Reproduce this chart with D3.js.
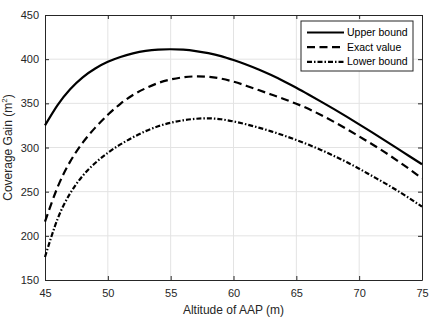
<html>
<head>
<script src="https://d3js.org/d3.v7.min.js"></script>
<style>
  body { margin: 0; background: white; font-family: "Liberation Sans", Arial, Helvetica, sans-serif; }
  .grid line { stroke: #e3e3e3; stroke-width: 1px; }
  .axis text { fill: #262626; font-size: 11px; }
  .axis path, .axis line { stroke: #262626; }
</style>
</head>
<body>
<svg id="chart" width="436" height="322"></svg>
<script>
const altitude = d3.range(45, 76);
const upperBound = [325, 348, 366, 379.5, 389.5, 397, 402.5, 406.5, 409.3, 410.8, 411.2, 410.7, 409.2, 406.8, 403.5, 399,
                    394, 388.3, 382, 375.1, 367.7, 359.8, 351.7, 343.4, 334.9, 326.2, 317.4, 308.4, 299.3, 290.1, 281];
const exactValue = [216, 255, 284, 305.5, 322.5, 337, 349.5, 359.5, 367, 373, 377, 379.5, 380.5, 380, 378, 374.5,
                    370, 365, 360, 355, 349.5, 343.5, 336.5, 329, 321, 312.5, 304, 295, 285.5, 275.5, 265];
const lowerBound = [176, 219, 248, 268, 282.5, 294, 303.5, 311.5, 318.5, 324, 328, 330.8, 332.5, 333, 332, 329.5,
                    326.3, 322.5, 318.3, 313.6, 308.5, 303, 297, 290.5, 283.5, 276, 268, 260, 251.5, 242.5, 233];
const xTicks = [45, 50, 55, 60, 65, 70, 75];
const yTicks = [150, 200, 250, 300, 350, 400, 450];
const seriesNames = ["Upper bound", "Exact value", "Lower bound"];

const svg = d3.select("#chart");
const margin = { top: 15, right: 14, bottom: 42, left: 45 };
const width = 436 - margin.left - margin.right;
const height = 322 - margin.top - margin.bottom;
const g = svg.append("g").attr("transform", "translate(" + margin.left + "," + margin.top + ")");

const x = d3.scaleLinear().domain([45, 75]).range([0, width]);
const y = d3.scaleLinear().domain([150, 450]).range([height, 0]);

// grid
g.append("g").attr("class", "grid")
 .selectAll("line.v").data(xTicks.slice(1, -1)).join("line")
 .attr("x1", d => x(d)).attr("x2", d => x(d)).attr("y1", 0).attr("y2", height);
g.append("g").attr("class", "grid")
 .selectAll("line.h").data(yTicks.slice(1, -1)).join("line")
 .attr("y1", d => y(d)).attr("y2", d => y(d)).attr("x1", 0).attr("x2", width);

// axes, ticks pointing inward like matlab
const tk = 4;
g.append("g").attr("class", "axis").attr("transform", "translate(0," + height + ")")
 .call(d3.axisBottom(x).tickValues(xTicks).tickSize(-tk).tickPadding(9).tickSizeOuter(0));
g.append("g").attr("class", "axis")
 .call(d3.axisLeft(y).tickValues(yTicks).tickSize(-tk).tickPadding(6).tickSizeOuter(0));
g.append("g").attr("class", "axis")
 .call(d3.axisTop(x).tickValues(xTicks).tickSize(-tk).tickFormat("").tickSizeOuter(0));
g.append("g").attr("class", "axis").attr("transform", "translate(" + width + ",0)")
 .call(d3.axisRight(y).tickValues(yTicks).tickSize(-tk).tickFormat("").tickSizeOuter(0));

// curves
const dashes = [null, "8,4.5", "5,2,1.5,2"];
const allSeries = [upperBound, exactValue, lowerBound];
const line = d3.line().x((d, i) => x(altitude[i])).y(d => y(d)).curve(d3.curveNatural);

g.selectAll("path.series").data(allSeries).join("path")
 .attr("class", "series")
 .attr("d", line)
 .attr("fill", "none")
 .attr("stroke", "black")
 .attr("stroke-width", 2.2)
 .attr("stroke-dasharray", (d, i) => dashes[i]);

// axis labels
svg.append("text")
   .attr("x", margin.left + width / 2)
   .attr("y", 314)
   .attr("text-anchor", "middle")
   .style("font-size", "12px")
   .style("fill", "#262626")
   .text("Altitude of AAP (m)");

const ylab = svg.append("text")
   .attr("transform", "translate(12," + (margin.top + height / 2) + ") rotate(-90)")
   .attr("text-anchor", "middle")
   .style("font-size", "12px")
   .style("fill", "#262626");
ylab.append("tspan").text("Coverage Gain  (m");
ylab.append("tspan").attr("dy", -5).style("font-size", "8px").text("2");
ylab.append("tspan").attr("dy", 5).text(")");

// legend
const legend = svg.append("g").attr("transform", "translate(301,21)");
legend.append("rect")
      .attr("width", 112).attr("height", 50)
      .attr("fill", "white").attr("stroke", "#262626").attr("stroke-width", 1);
seriesNames.forEach((name, i) => {
  legend.append("line")
        .attr("x1", 6).attr("x2", 43)
        .attr("y1", 11.5 + i * 14.7).attr("y2", 11.5 + i * 14.7)
        .attr("stroke", "black").attr("stroke-width", 2.2)
        .attr("stroke-dasharray", dashes[i]);
  legend.append("text")
        .attr("x", 46).attr("y", 15 + i * 14.7)
        .style("font-size", "10.5px")
        .style("fill", "#000")
        .text(name);
});
</script>
</body>
</html>
